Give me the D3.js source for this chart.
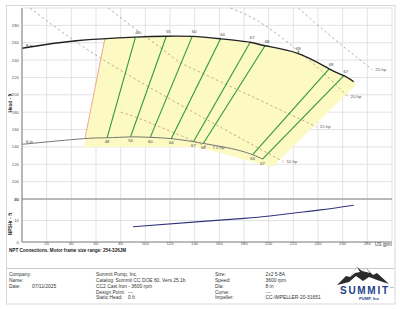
<!DOCTYPE html>
<html>
<head>
<meta charset="utf-8">
<script src="https://cdn.jsdelivr.net/npm/d3@7"></script>
<style>
  body { margin: 0; background: #fff; }
  text { font-family: "Liberation Sans", Arial, sans-serif; }
</style>
</head>
<body>
<div class="chart"></div>
<script>
var svgWidth = 400;
var svgHeight = 309;

// flow ticks (US gpm)
var flowTicks = [20, 40, 60, 80, 100, 120, 140, 160, 180, 200, 220, 240, 260, 280];
var headTicks = [80, 100, 120, 140, 160, 180, 200, 220, 240, 260, 280];
var npshTicks = [0, 10, 20];

// 8 in impeller (max)
var maxFlow = [0, 44, 92, 117, 138, 161, 185, 197, 224, 249, 261, 269];
var maxHead = [253.6, 262.3, 266.5, 267.5, 267.3, 264.5, 260.5, 256.5, 247.5, 230, 222, 215];

// 6 in impeller (min)
var minFlow = [0, 50, 69, 88, 104, 121, 139, 147, 170, 187, 195];
var minHead = [143, 149.5, 150.5, 151.5, 151, 149.5, 146, 144, 138, 131, 126];

// efficiency lines: top point on 8 in, bottom point on 6 in
var effTopLabel = ["48", "55", "60", "64", "67", "68", "68", "67"];
var effBotLabel = ["48", "55", "60", "64", "67", "68", "66", "67"];
var effTopFlow = [92, 117, 138, 161, 185, 197, 249, 261];
var effTopHead = [266.5, 267.5, 267.3, 264.5, 260.5, 256.5, 230, 222];
var effBotFlow = [69, 88, 104, 121, 139, 147, 187, 195];
var effBotHead = [150.5, 151.5, 151, 149.5, 146, 144, 131, 126];

// best efficiency point label
var bepFlow = 224;
var bepHead = 247.5;
var bepLabel = "69";

// power lines
var hpLabels = ["25 hp", "20 hp", "15 hp", "10 hp", "7.5 hp"];
var hpFlow = [
  [224, 250, 284],
  [169, 199, 240, 264],
  [70, 90, 122, 144, 239],
  [6.5, 63, 144, 212],
  [80, 100, 152]
];
var hpHead = [
  [300, 268, 229],
  [300, 278, 231, 198],
  [300, 278, 243.6, 226.3, 163],
  [300, 243, 176, 123],
  [180, 170, 139]
];

// preferred operating region
var regionFlow = [67.3, 92, 117, 138, 161, 185, 197, 224, 249, 261, 269, 271, 203, 148, 140, 50.3];
var regionHead = [265.4, 266.5, 267.5, 267.3, 264.5, 260.5, 256.5, 247.5, 230, 222, 215, 212, 117, 137.6, 140, 140];

// minimum flow line
var minFlowLineFlow = [67.3, 51.1];
var minFlowLineHead = [265.4, 149.9];

// NPSHr
var npshFlow = [90, 144, 180, 201, 221, 242, 269];
var npshVal = [7.1, 9.5, 11, 12.1, 13.5, 14.9, 17.1];

var infoLeftLabels = ["Company:", "Name:", "Date:"];
var infoLeftValues = ["", "", "07/11/2025"];
var infoMid = ["Summit Pump, Inc.", "Catalog: Summit CC DOE 60, Vers 25.1b", "CC2 Cast Iron - 3600 rpm"];
var infoMidLabels = ["Design Point:", "Static Head:"];
var infoMidValues = ["---", "0 ft"];
var infoRightLabels = ["Size:", "Speed:", "Dia:", "Curve:", "Impeller:"];
var infoRightValues = ["2x2 5-8A", "3600 rpm", "8 in", "---", "CC-IMPELLER-20-31651"];

var svg = d3.select(".chart")
  .append("svg")
  .attr("width", svgWidth)
  .attr("height", svgHeight);

// outer frame
svg.append("rect")
  .attr("x", 6.5).attr("y", 5.5)
  .attr("width", 388.5).attr("height", 298.5)
  .attr("fill", "none")
  .attr("stroke", "#d8d8d8");

var x = d3.scaleLinear().domain([0, 300]).range([22, 392]);
var yH = d3.scaleLinear().domain([80, 300]).range([199, 8]);
var yN = d3.scaleLinear().domain([0, 20]).range([242, 199]);

function zip(a, b) { return a.map((v, i) => [v, b[i]]); }

var headLine = d3.line().x(d => x(d[0])).y(d => yH(d[1]));
var npshLine = d3.line().x(d => x(d[0])).y(d => yN(d[1]));

// grid
var grid = svg.append("g").attr("stroke", "#dcdcdc").attr("stroke-width", 0.8);
d3.range(0, 301, 20).forEach(function(f) {
  grid.append("line").attr("x1", x(f)).attr("x2", x(f)).attr("y1", yH(300)).attr("y2", yN(0));
});
d3.range(80, 301, 20).forEach(function(h) {
  grid.append("line").attr("x1", x(0)).attr("x2", x(300)).attr("y1", yH(h)).attr("y2", yH(h));
});
npshTicks.forEach(function(n) {
  grid.append("line").attr("x1", x(0)).attr("x2", x(300)).attr("y1", yN(n)).attr("y2", yN(n));
});

// region fill
svg.append("path")
  .attr("d", d3.line().x(d => x(d[0])).y(d => yH(d[1])).curve(d3.curveLinearClosed)(zip(regionFlow, regionHead)))
  .attr("fill", "#fcf9bf")
  .attr("fill-opacity", 0.95);

// power lines
var hpG = svg.append("g");
hpFlow.forEach(function(fl, i) {
  var pts = zip(fl, hpHead[i]);
  hpG.append("path")
    .attr("d", headLine.curve(d3.curveNatural)(pts))
    .attr("fill", "none")
    .attr("stroke", "#b09a80")
    .attr("stroke-width", 0.8)
    .attr("stroke-dasharray", "2.5,2.5");
  var last = pts[pts.length - 1];
  hpG.append("text")
    .attr("x", x(last[0]) + 3)
    .attr("y", yH(last[1]) + 1.5)
    .attr("font-size", 4.3)
    .attr("fill", "#555")
    .text(hpLabels[i]);
});

// min flow line
svg.append("path")
  .attr("d", headLine.curve(d3.curveLinear)(zip(minFlowLineFlow, minFlowLineHead)))
  .attr("stroke", "#f29a86")
  .attr("stroke-width", 0.9)
  .attr("fill", "none");

// efficiency lines
effTopFlow.forEach(function(f, i) {
  svg.append("line")
    .attr("x1", x(f)).attr("y1", yH(effTopHead[i]))
    .attr("x2", x(effBotFlow[i])).attr("y2", yH(effBotHead[i]))
    .attr("stroke", "#2f9a3c")
    .attr("stroke-width", 1.1);
  svg.append("text")
    .attr("x", x(f) + 2).attr("y", yH(effTopHead[i]) - 3)
    .attr("font-size", 4.2).attr("fill", "#444")
    .attr("text-anchor", "middle")
    .text(effTopLabel[i]);
  svg.append("text")
    .attr("x", x(effBotFlow[i])).attr("y", yH(effBotHead[i]) + 5.5)
    .attr("font-size", 4.2).attr("fill", "#444")
    .attr("text-anchor", "middle")
    .text(effBotLabel[i]);
});

svg.append("line")
  .attr("x1", x(bepFlow)).attr("x2", x(bepFlow))
  .attr("y1", yH(bepHead)).attr("y2", yH(bepHead) - 3)
  .attr("stroke", "#2f9a3c").attr("stroke-width", 1);
svg.append("text")
  .attr("x", x(bepFlow)).attr("y", yH(bepHead) - 4)
  .attr("font-size", 4.2).attr("fill", "#444")
  .attr("text-anchor", "middle")
  .text(bepLabel);

// impeller curves
svg.append("path")
  .attr("d", headLine.curve(d3.curveNatural)(zip(maxFlow, maxHead)))
  .attr("fill", "none").attr("stroke", "#222").attr("stroke-width", 1.4);
svg.append("path")
  .attr("d", headLine.curve(d3.curveNatural)(zip(minFlow, minHead)))
  .attr("fill", "none").attr("stroke", "#666").attr("stroke-width", 0.9);

svg.append("text").attr("x", x(0) + 4).attr("y", yH(maxHead[0]) - 1.5)
  .attr("font-size", 4.2).attr("fill", "#333").text("8 in");
svg.append("text").attr("x", x(0) + 4).attr("y", yH(minHead[0]) - 1.5)
  .attr("font-size", 4.2).attr("fill", "#333").text("6 in");

// NPSHr
svg.append("path")
  .attr("d", npshLine.curve(d3.curveNatural)(zip(npshFlow, npshVal)))
  .attr("fill", "none").attr("stroke", "#34347e").attr("stroke-width", 1.2);

// axes lines
svg.append("line").attr("x1", x(0)).attr("x2", x(0)).attr("y1", yH(300)).attr("y2", yN(0))
  .attr("stroke", "#999").attr("stroke-width", 1.3);
svg.append("line").attr("x1", x(0)).attr("x2", x(300)).attr("y1", yH(80)).attr("y2", yH(80))
  .attr("stroke", "#888").attr("stroke-width", 1.2);
svg.append("line").attr("x1", x(0)).attr("x2", x(300)).attr("y1", yN(0)).attr("y2", yN(0))
  .attr("stroke", "#888").attr("stroke-width", 1.2);

// tick labels
var tickFont = 4.3;
svg.append("g").selectAll("text").data(headTicks).enter().append("text")
  .attr("x", 19).attr("y", d => yH(d) + 1.5)
  .attr("text-anchor", "end").attr("font-size", tickFont).attr("fill", "#555")
  .text(d => d);
svg.append("g").selectAll("text").data(npshTicks).enter().append("text")
  .attr("x", 19).attr("y", d => yN(d) + 1.5)
  .attr("text-anchor", "end").attr("font-size", tickFont).attr("fill", "#555")
  .text(d => d);
svg.append("g").selectAll("text").data(flowTicks).enter().append("text")
  .attr("x", d => x(d)).attr("y", 245)
  .attr("text-anchor", "middle").attr("font-size", tickFont).attr("fill", "#555")
  .text(d => d);
svg.append("text").attr("x", 392).attr("y", 245.5).attr("text-anchor", "end")
  .attr("font-size", 4.8).attr("fill", "#444").text("US gpm");

// axis titles
svg.append("text")
  .attr("transform", "translate(11.5,103) rotate(-90)")
  .attr("text-anchor", "middle").attr("font-size", 4.8).attr("font-weight", "bold").attr("fill", "#333")
  .text("Head - ft");
svg.append("text")
  .attr("transform", "translate(11.5,224) rotate(-90)")
  .attr("text-anchor", "middle").attr("font-size", 4.8).attr("font-weight", "bold").attr("fill", "#333")
  .text("NPSHr - ft");

svg.append("text").attr("x", 9).attr("y", 251.5)
  .attr("font-size", 4.6).attr("font-weight", "bold").attr("fill", "#222")
  .text("NPT Connections. Motor frame size range: 254-326JM");

// footer
svg.append("line").attr("x1", 7).attr("x2", 394).attr("y1", 268.5).attr("y2", 268.5)
  .attr("stroke", "#bbb").attr("stroke-width", 0.8);

var rowY = d3.range(5).map(i => 275.8 + i * 5.9);
var foot = svg.append("g").attr("font-size", 4.9).attr("fill", "#333");
infoLeftLabels.forEach(function(t, i) {
  foot.append("text").attr("x", 9).attr("y", rowY[i]).text(t);
  foot.append("text").attr("x", 32).attr("y", rowY[i]).text(infoLeftValues[i]);
});
infoMid.forEach(function(t, i) {
  foot.append("text").attr("x", 96).attr("y", rowY[i]).text(t);
});
infoMidLabels.forEach(function(t, i) {
  foot.append("text").attr("x", 96).attr("y", rowY[i + 3]).text(t);
  foot.append("text").attr("x", 128).attr("y", rowY[i + 3]).text(infoMidValues[i]);
});
infoRightLabels.forEach(function(t, i) {
  foot.append("text").attr("x", 215).attr("y", rowY[i]).text(t);
  foot.append("text").attr("x", 265.5).attr("y", rowY[i]).text(infoRightValues[i]);
});

// logo
var logo = svg.append("g");
logo.append("path")
  .attr("d", "M337,285 L346,276 L350,277 L357,267 L362,271 L366,268 L373,275 L377,273 L389,284 L377,280 L369,277 L363,281 L356,276 L349,282 Z")
  .attr("fill", "#2b2b2b");
logo.append("path")
  .attr("d", "M350,277 L357,267 L360,272 L355,273 Z M362,271 L366,268 L370,273 Z")
  .attr("fill", "#fff");
logo.append("text").attr("x", 364).attr("y", 294).attr("text-anchor", "middle")
  .attr("font-family", "Liberation Serif, serif").attr("font-weight", "bold")
  .attr("font-size", 10).attr("fill", "#233f8a").attr("textLength", 48)
  .text("SUMMIT");
logo.append("text").attr("x", 390).attr("y", 288).attr("font-size", 2.5).attr("fill", "#233f8a").text("TM");
logo.append("text").attr("x", 369).attr("y", 299.5).attr("text-anchor", "middle")
  .attr("font-weight", "bold").attr("font-size", 4.2).attr("fill", "#233f8a")
  .text("PUMP, Inc");
</script>
</body>
</html>
